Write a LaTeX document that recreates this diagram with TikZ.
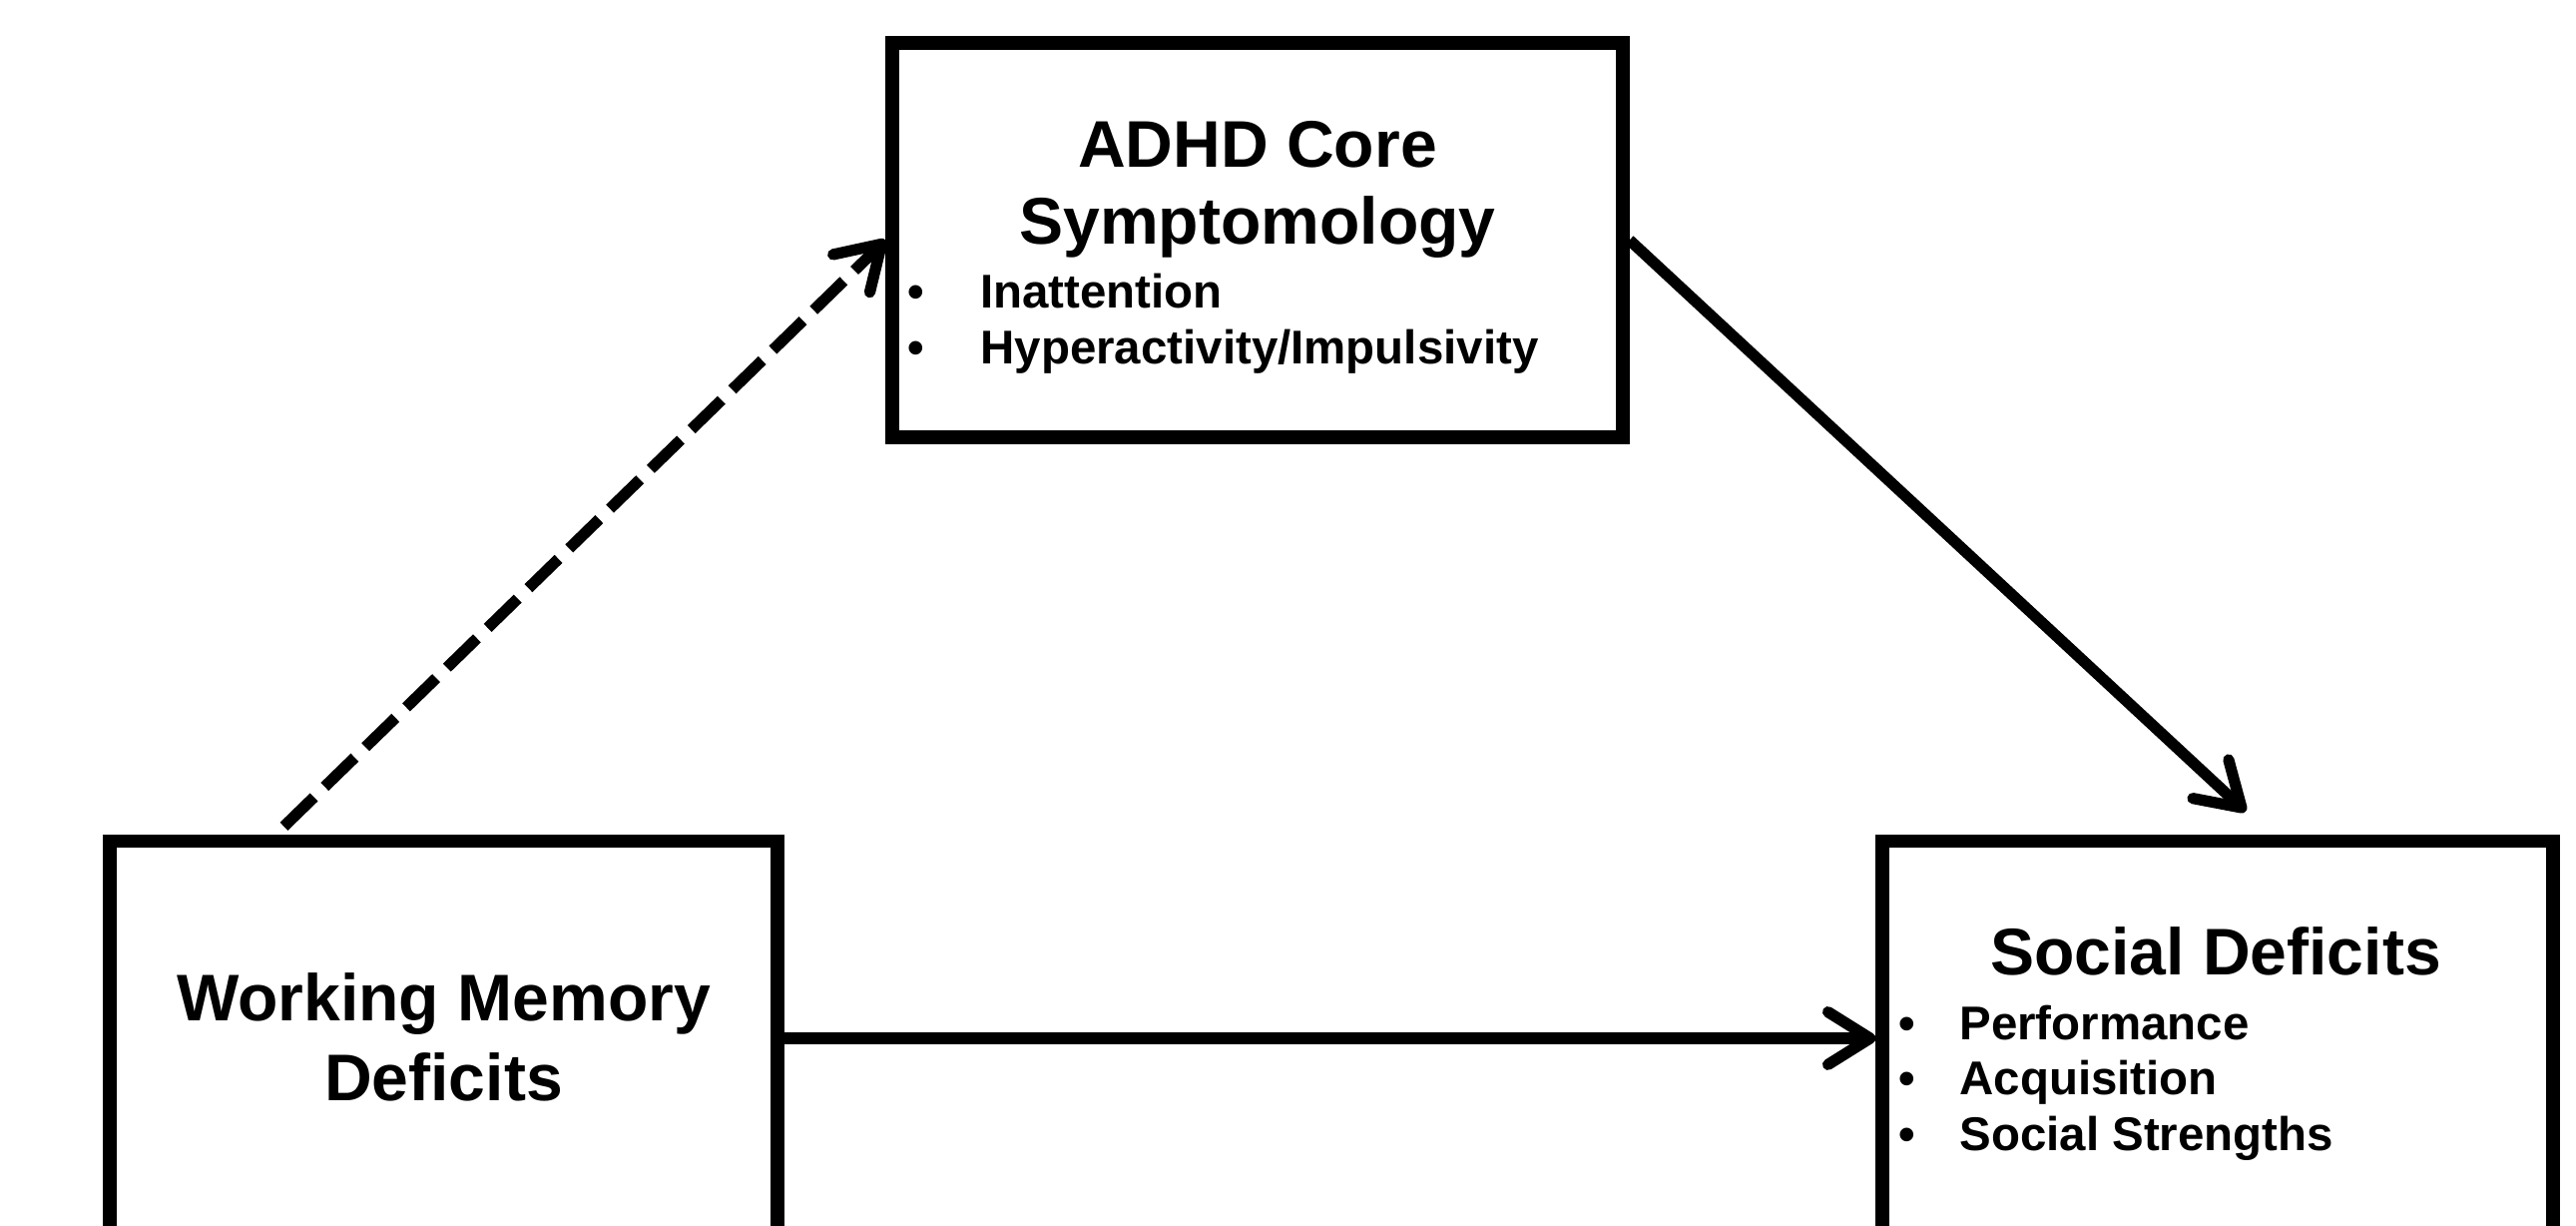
\documentclass[tikz,border=0pt]{standalone}
\usepackage{fontspec}
\setmainfont{Liberation Sans}
\usetikzlibrary{arrows.meta,calc}
\begin{document}
\begin{tikzpicture}[
    box/.style={draw, line width=3.8pt, minimum height=3.95cm, inner sep=0pt},
    title/.style={anchor=base, font=\fontsize{18.8}{22}\selectfont\bfseries},
    item/.style={anchor=base west, font=\fontsize{13.5}{16}\selectfont\bfseries},
    dot/.style={anchor=base, font=\fontsize{13.5}{16}\selectfont\bfseries},
    link/.style={line width=3.2pt, -{Straight Barb[length=12pt,width=15pt,round]}}
]
\useasboundingbox (0,0) rectangle (25.81,12.28);

% boxes
\node[box, minimum width=7.32cm] (adhd) at (12.60,9.875) {};
\node[box, minimum width=6.69cm] (wm) at (4.445,1.88) {};
\node[box, minimum width=6.72cm] (soc) at (22.22,1.88) {};

% ADHD box
\node[title] (adhdA) at (12.60,10.60) {ADHD Core};
\node[title] (adhdB) at (12.60,9.83) {Symptomology};
\node[dot] (adhdD1) at (9.18,9.19) {•};
\node[item] (adhdI1) at (9.70,9.19) {Inattention};
\node[dot] (adhdD2) at (9.18,8.63) {•};
\node[item] (adhdI2) at (9.70,8.63) {Hyperactivity/Impulsivity};

% working memory box
\node[title] (wmA) at (4.445,2.05) {Working Memory};
\node[title] (wmB) at (4.445,1.25) {Deficits};

% social box
\node[title] (socA) at (22.20,2.51) {Social Deficits};
\node[dot] (socD1) at (19.11,1.86) {•};
\node[item] (socI1) at (19.51,1.86) {Performance};
\node[dot] (socD2) at (19.11,1.31) {•};
\node[item] (socI2) at (19.51,1.31) {Acquisition};
\node[dot] (socD3) at (19.11,0.75) {•};
\node[item] (socI3) at (19.51,0.75) {Social Strengths};

% arrows
\coordinate (wmTop) at ($(wm.north)+(-1.6,0.08)$);
\coordinate (socTop) at ($(soc.north)+(0.28,0.23)$);
\draw[link, dash pattern=on 0.42cm off 0.15cm] (wmTop) -- (adhd.west);
\draw[link] (adhd.east) -- (socTop);
\draw[link] (wm.east) -- (soc.west);
\end{tikzpicture}
\end{document}
